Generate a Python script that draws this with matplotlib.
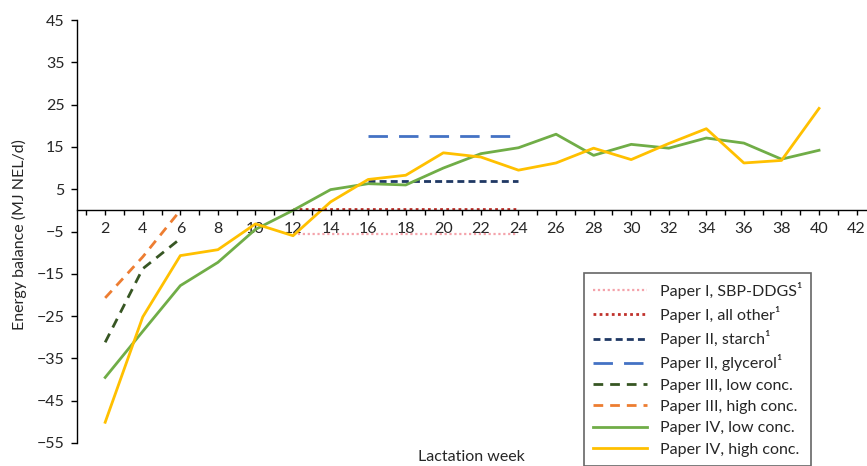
import matplotlib
matplotlib.use("Agg")
import matplotlib.pyplot as plt

plt.rcParams['font.family'] = ['Lato', 'DejaVu Sans']

# Energy balance (MJ NEL/d) per lactation week
weeks_even = [2, 4, 6, 8, 10, 12, 14, 16, 18, 20, 22, 24, 26, 28, 30, 32, 34, 36, 38, 40]
iv_low = [-39.5, -28.6, -17.8, -12.3, -4.5, 0.0, 4.9, 6.3, 6.0, 10.0,
          13.4, 14.8, 18.0, 13.0, 15.6, 14.7, 17.1, 15.9, 12.1, 14.2]
iv_high = [-50.1, -25.2, -10.7, -9.3, -3.2, -6.0, 2.0, 7.3, 8.3, 13.6,
           12.6, 9.5, 11.2, 14.7, 12.0, 15.8, 19.3, 11.2, 11.8, 24.1]

weeks_iii = [2, 4, 6]
iii_low = [-31.2, -13.8, -6.7]
iii_high = [-20.7, -11.0, 0.0]

weeks_i = [12, 14, 16, 18, 20, 22, 24]
i_sbp = [-5.5, -5.5, -5.5, -5.5, -5.5, -5.5, -5.5]
i_other = [0.4, 0.4, 0.4, 0.4, 0.4, 0.4, 0.4]

weeks_ii = [16, 18, 20, 22, 24]
ii_starch = [6.9, 6.9, 6.9, 6.9, 6.9]
ii_glycerol = [17.5, 17.5, 17.5, 17.5, 17.5]

x_ticks = list(range(1, 43))
x_labels = [str(w) if w % 2 == 0 else '' for w in x_ticks]
y_ticks = [-55, -45, -35, -25, -15, -5, 5, 15, 25, 35, 45]

FONT_SIZE = 11.5
TEXT_COLOR = '#262626'


def main():
    fig = plt.figure(figsize=(8.67, 4.66), dpi=100)
    ax = fig.add_axes([77 / 867, 23 / 466, 789 / 867, 423 / 466])

    ax.plot(weeks_i, i_sbp, color='#f4a3ab', linestyle=(0, (1, 1.2)), lw=1.6,
            label='Paper I, SBP-DDGS\u00b9')
    ax.plot(weeks_i, i_other, color='#c0312b', linestyle=(0, (1, 1.2)), lw=2.0,
            label='Paper I, all other\u00b9')
    ax.plot(weeks_ii, ii_starch, color='#1f3864', linestyle=(0, (2.5, 1.5)), lw=2.0,
            label='Paper II, starch\u00b9')
    ax.plot(weeks_ii, ii_glycerol, color='#4472c4', linestyle=(0, (7, 4)), lw=2.0,
            label='Paper II, glycerol\u00b9')
    ax.plot(weeks_iii, iii_low, color='#375623', linestyle=(0, (3.5, 2.5)), lw=2.0,
            label='Paper III, low conc.')
    ax.plot(weeks_iii, iii_high, color='#ed7d31', linestyle=(0, (3.5, 2.5)), lw=2.0,
            label='Paper III, high conc.')
    ax.plot(weeks_even, iv_low, color='#70ad47', lw=2.0, label='Paper IV, low conc.')
    ax.plot(weeks_even, iv_high, color='#ffc000', lw=2.0, label='Paper IV, high conc.')

    ax.set_xlim(0.5, 42.5)
    ax.set_ylim(-55, 45)

    ax.spines['top'].set_visible(False)
    ax.spines['right'].set_visible(False)
    ax.spines['bottom'].set_position(('data', 0))
    ax.spines['left'].set_linewidth(1.0)
    ax.spines['bottom'].set_linewidth(1.0)

    ax.set_xticks(x_ticks)
    ax.set_xticklabels(x_labels)
    ax.set_yticks(y_ticks)
    ax.tick_params(axis='x', direction='out', length=3.5, width=1, pad=5,
                   labelsize=FONT_SIZE, labelcolor=TEXT_COLOR)
    ax.tick_params(axis='y', direction='out', length=4, width=1, pad=5,
                   labelsize=FONT_SIZE, labelcolor=TEXT_COLOR)

    fig.text(19 / 867, 1 - 235 / 466, 'Energy balance (MJ NEL/d)', rotation=90,
             ha='center', va='center', fontsize=FONT_SIZE, color=TEXT_COLOR)
    fig.text(471 / 867, 1 - 457 / 466, 'Lactation week', ha='center',
             va='center', fontsize=FONT_SIZE, color=TEXT_COLOR)

    leg = ax.legend(loc='upper left', bbox_to_anchor=(584 / 867, 1 - 273 / 466),
                    bbox_transform=fig.transFigure, borderaxespad=0,
                    fancybox=False, fontsize=FONT_SIZE, handlelength=3.4,
                    labelspacing=0.45, borderpad=0.55, handletextpad=0.8,
                    labelcolor=TEXT_COLOR)
    leg.get_frame().set_edgecolor('#404040')
    leg.get_frame().set_linewidth(1.2)

    fig.savefig('out.png', dpi=100)


if __name__ == "__main__":
    main()
